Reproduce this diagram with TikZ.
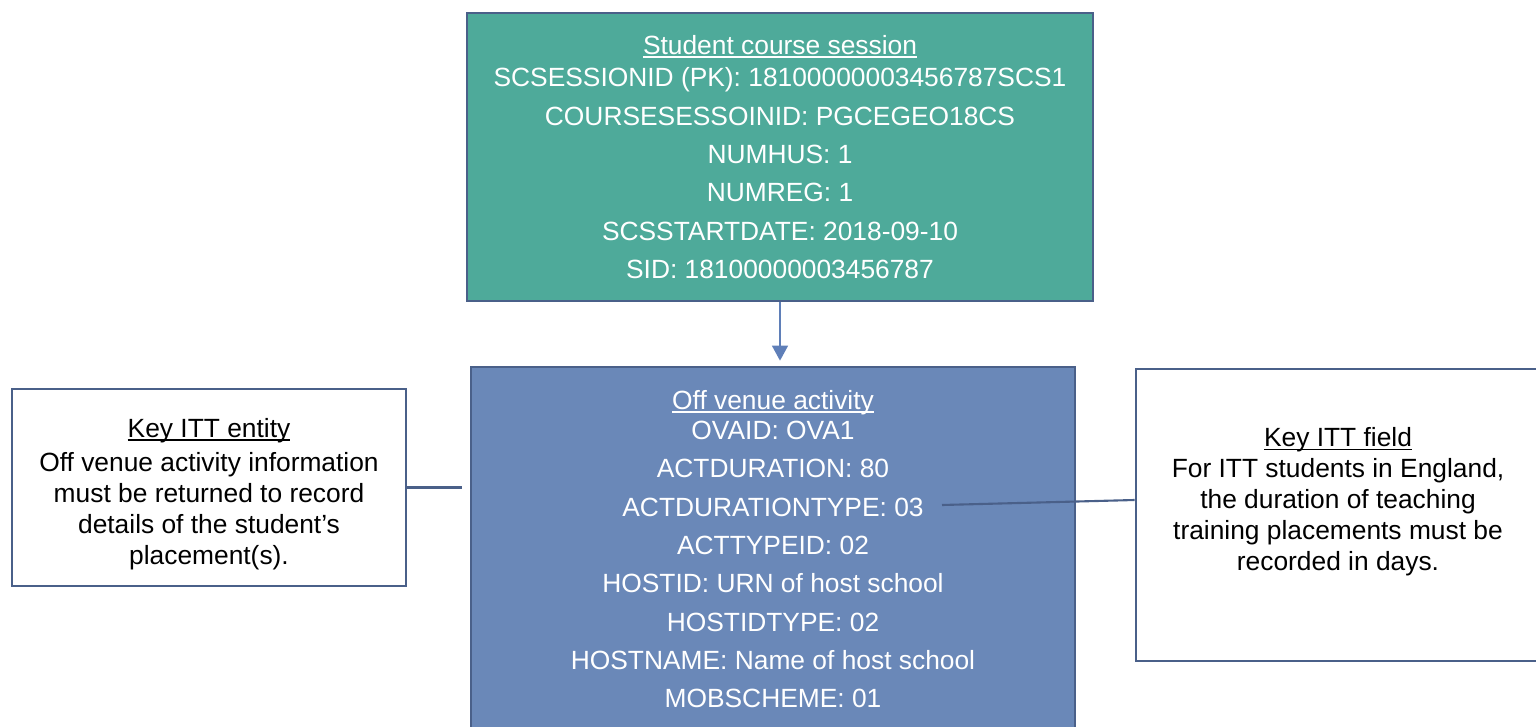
\documentclass[tikz,border=0pt]{standalone}
\usepackage{fontspec}
\setmainfont{Liberation Sans}
\usetikzlibrary{arrows.meta}
\definecolor{sessfill}{HTML}{4EAA9A}
\definecolor{actfill}{HTML}{6A88B8}
\definecolor{edgeblue}{HTML}{4A6089}
\definecolor{arrowblue}{HTML}{5F7FB8}
\newcommand{\boxtitle}[1]{\setbox0\hbox{#1}\rlap{\rule[-0.13em]{\wd0}{0.07em}}\box0}
\tikzstyle{entity}=[draw=edgeblue, line width=1.6pt, text=white, align=center, inner sep=0pt, font=\fontsize{15}{21.8}\selectfont]
\tikzstyle{note}=[draw=edgeblue, line width=1.6pt, fill=white, align=center, inner sep=0pt, font=\fontsize{15}{17.6}\selectfont]
\tikzstyle{notetext}=[align=center, inner sep=0pt, font=\fontsize{15}{17.6}\selectfont]
\tikzstyle{link}=[draw=edgeblue, line width=1.2pt]
\tikzstyle{flow}=[draw=arrowblue, line width=0.8pt, -{Triangle[width=0.32cm,length=0.3cm]}]

\begin{document}
\begin{tikzpicture}[x=0.02cm, y=-0.02cm]
  \useasboundingbox (0,0) rectangle (1536,727);

  % student course session
  \node (sess) [entity, fill=sessfill, minimum width=12.52cm, minimum height=5.76cm] at (780,157)
    {\boxtitle{Student course session}\\[-0.12cm]
     SCSESSIONID (PK): 18100000003456787SCS1\\
     COURSESESSOINID: PGCEGEO18CS\\
     NUMHUS: 1\\
     NUMREG: 1\\
     SCSSTARTDATE: 2018-09-10\\
     SID: 18100000003456787};

  % off venue activity
  \node (ova) [entity, fill=actfill, minimum width=12.08cm, minimum height=7.28cm] at (773,549)
    {\boxtitle{Off venue activity}\\[-0.16cm]
     OVAID: OVA1\\
     ACTDURATION: 80\\
     ACTDURATIONTYPE: 03\\
     ACTTYPEID: 02\\
     HOSTID: URN of host school\\
     HOSTIDTYPE: 02\\
     HOSTNAME: Name of host school\\
     MOBSCHEME: 01};

  % notes
  \node (keyentity) [note, minimum width=7.88cm, minimum height=3.94cm] at (209,487.5) {};
  \node (keyentitytext) [notetext] at (209,494)
    {\boxtitle{Key ITT entity}\\[0.06cm]
     Off venue activity information\\
     must be returned to record\\
     details of the student’s\\
     placement(s).};
  \node (keyfield) [note, minimum width=8.08cm, minimum height=5.84cm] at (1338,515) {};
  \node (keyfieldtext) [notetext] at (1338,502)
    {\boxtitle{Key ITT field}\\
     For ITT students in England,\\
     the duration of teaching\\
     training placements must be\\
     recorded in days.};

  % connections
  \draw [flow] (sess.south) -- ([yshift=0.1cm]sess.south |- ova.north);
  \draw [link] (keyentity.east) -- ([xshift=-0.16cm]keyentity.east -| ova.west);
  \coordinate (durend) at (942,505);
  \draw [link] (durend) -- ([yshift=0.3cm]keyfield.west);

\end{tikzpicture}
\end{document}
